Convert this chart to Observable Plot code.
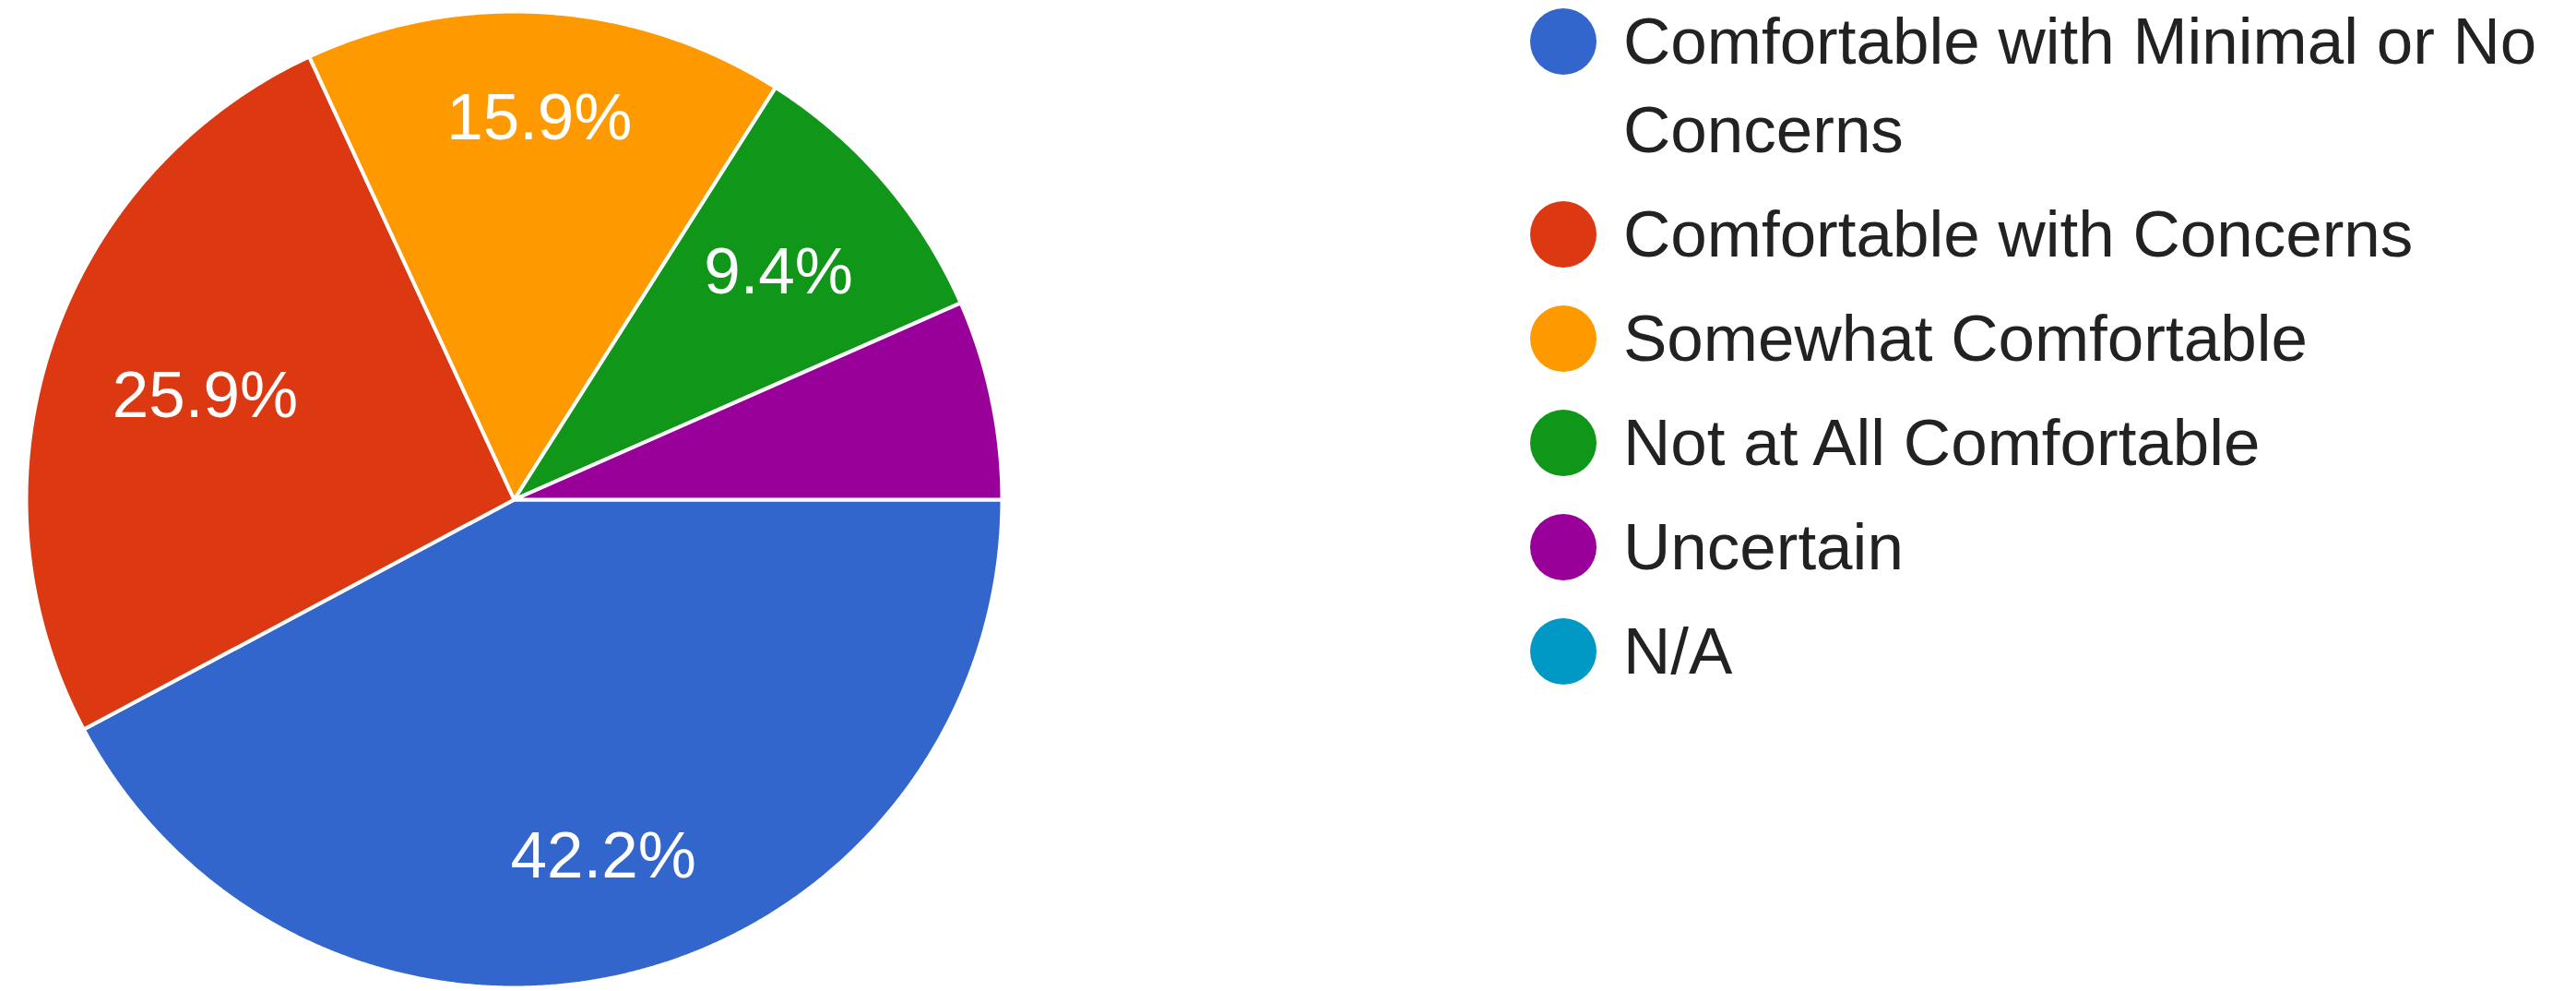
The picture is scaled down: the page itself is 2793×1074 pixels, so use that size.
<!DOCTYPE html>
<html>
<head>
<meta charset="utf-8">
<script src="https://cdn.jsdelivr.net/npm/d3@7"></script>
<script src="https://cdn.jsdelivr.net/npm/@observablehq/plot@0.6"></script>
<style>
  html, body { margin: 0; padding: 0; background: #fff; }
  body { width: 2793px; height: 1074px; position: relative; overflow: hidden; }
  #pie { position: absolute; left: 0; top: 0; }
  #legend { position: absolute; left: 1659px; top: -3px; width: 1134px;
            font-family: "Liberation Sans", Arial, sans-serif; font-size: 71px; color: #222; }
  .item { display: flex; align-items: flex-start; margin-bottom: 17px; }
  .sw { flex: none; width: 72px; height: 72px; border-radius: 50%; margin-top: 12px; }
  .lab { margin-left: 29px; line-height: 96px; max-width: 1030px; }
</style>
</head>
<body>
<div id="pie"></div>
<div id="legend"></div>
<script>
// ---- data ----
const categories = [
  "Comfortable with Minimal or No Concerns",
  "Comfortable with Concerns",
  "Somewhat Comfortable",
  "Not at All Comfortable",
  "Uncertain",
  "N/A"
];
const values = [42.2, 25.9, 15.9, 9.4, 6.6, 0];
const colors = ["#3366cc", "#dc3912", "#ff9900", "#109618", "#990099", "#0099c6"];

// ---- layout ----
const W = 1120, H = 1074;
const cx = 557, cy = 541, R = 529;
const fontFamily = "'Liberation Sans', Arial, sans-serif";
const fontSize = 71;
const minLabelValue = 7.5;

const data = categories.map((c, i) => ({label: c, value: values[i]}));
const arcs = d3.pie().value(d => d.value).sort(null)
  .startAngle(Math.PI / 2).endAngle(Math.PI / 2 + 2 * Math.PI)(data);

// polygon points for every slice (unit circle, y pointing down)
const pts = [];
for (const a of arcs) {
  if (a.data.value <= 0) continue;
  pts.push({label: a.data.label, x: 0, y: 0});
  const n = Math.max(2, Math.ceil((a.endAngle - a.startAngle) / (Math.PI / 720)));
  for (let k = 0; k <= n; k++) {
    const t = a.startAngle + (a.endAngle - a.startAngle) * k / n;
    pts.push({label: a.data.label, x: Math.sin(t), y: -Math.cos(t)});
  }
}

// label placement: farthest corner of the text box at a fixed fraction of the radius
const ctx = document.createElement("canvas").getContext("2d");
ctx.font = `${fontSize}px ${fontFamily}`;
const D = 0.864 * R;
const labels = arcs.filter(a => a.data.value >= minLabelValue).map(a => {
  const text = a.data.value.toFixed(1) + "%";
  const mid = (a.startAngle + a.endAngle) / 2;
  const ux = Math.sin(mid), uy = -Math.cos(mid);
  const hw = ctx.measureText(text).width / 2, hh = fontSize * 0.716 / 2;
  const p = Math.abs(ux) * hw + Math.abs(uy) * hh;
  const t = -p + Math.sqrt(p * p - (hw * hw + hh * hh - D * D));
  return {text, x: ux * t / R, y: uy * t / R};
});

const chart = Plot.plot({
  width: W, height: H,
  margin: 0,
  style: {background: "transparent"},
  x: {domain: [-1, 1], range: [cx - R, cx + R], axis: null},
  y: {domain: [-1, 1], range: [cy - R, cy + R], axis: null},
  color: {domain: categories, range: colors},
  marks: [
    Plot.line(pts, {x: "x", y: "y", z: "label", fill: "label", stroke: "white",
      strokeWidth: 4, strokeLinejoin: "round", curve: "linear-closed"}),
    Plot.text(labels, {x: "x", y: "y", text: "text", fill: "white",
      fontSize, fontFamily})
  ]
});
document.getElementById("pie").appendChild(chart);

// legend
const leg = document.getElementById("legend");
categories.forEach((c, i) => {
  const item = document.createElement("div");
  item.className = "item";
  const sw = document.createElement("div");
  sw.className = "sw";
  sw.style.background = colors[i];
  const lab = document.createElement("div");
  lab.className = "lab";
  lab.textContent = c;
  item.appendChild(sw);
  item.appendChild(lab);
  leg.appendChild(item);
});
</script>
</body>
</html>
